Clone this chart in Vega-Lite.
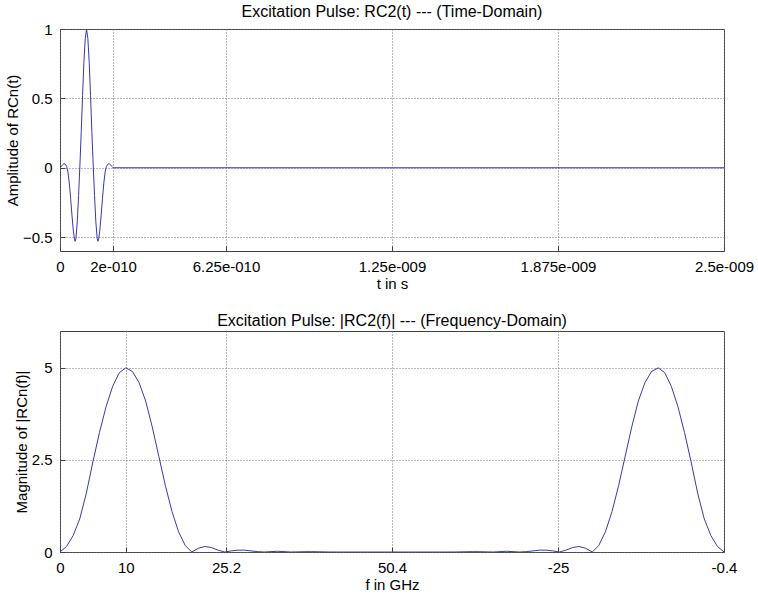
{
  "$schema": "https://vega.github.io/schema/vega-lite/v6.json",
  "background": "white",
  "padding": {"left": 4, "top": 3, "right": 5, "bottom": 5},
  "spacing": 80,
  "bounds": "flush",
  "datasets": {
    "pulse": [
      {"t": 0, "a": 0},
      {"t": 5e-12, "a": 0.01},
      {"t": 1e-11, "a": 0.022},
      {"t": 1.5e-11, "a": 0.03},
      {"t": 2e-11, "a": 0.025},
      {"t": 2.5e-11, "a": 0.01},
      {"t": 3e-11, "a": -0.03},
      {"t": 3.5e-11, "a": -0.11},
      {"t": 4e-11, "a": -0.22},
      {"t": 4.5e-11, "a": -0.34},
      {"t": 5e-11, "a": -0.45},
      {"t": 5.5e-11, "a": -0.52},
      {"t": 5.7e-11, "a": -0.53},
      {"t": 6e-11, "a": -0.51},
      {"t": 6.5e-11, "a": -0.39},
      {"t": 7e-11, "a": -0.2},
      {"t": 7.5e-11, "a": 0.02},
      {"t": 8e-11, "a": 0.26},
      {"t": 8.5e-11, "a": 0.52},
      {"t": 9e-11, "a": 0.76},
      {"t": 9.5e-11, "a": 0.93},
      {"t": 1e-10, "a": 1.0},
      {"t": 1.05e-10, "a": 0.93},
      {"t": 1.1e-10, "a": 0.76},
      {"t": 1.15e-10, "a": 0.52},
      {"t": 1.2e-10, "a": 0.26},
      {"t": 1.25e-10, "a": 0.02},
      {"t": 1.3e-10, "a": -0.2},
      {"t": 1.35e-10, "a": -0.39},
      {"t": 1.4e-10, "a": -0.51},
      {"t": 1.43e-10, "a": -0.53},
      {"t": 1.45e-10, "a": -0.52},
      {"t": 1.5e-10, "a": -0.45},
      {"t": 1.55e-10, "a": -0.34},
      {"t": 1.6e-10, "a": -0.22},
      {"t": 1.65e-10, "a": -0.11},
      {"t": 1.7e-10, "a": -0.03},
      {"t": 1.75e-10, "a": 0.01},
      {"t": 1.8e-10, "a": 0.025},
      {"t": 1.85e-10, "a": 0.03},
      {"t": 1.9e-10, "a": 0.022},
      {"t": 1.95e-10, "a": 0.01},
      {"t": 2e-10, "a": 0},
      {"t": 2.5e-9, "a": 0}
    ],
    "spectrum": [
      {"f": 0, "m": 0}, {"f": 1, "m": 0.15}, {"f": 2, "m": 0.45}, {"f": 3, "m": 0.9},
      {"f": 4, "m": 1.6}, {"f": 5, "m": 2.45}, {"f": 6, "m": 3.25}, {"f": 7, "m": 3.95},
      {"f": 8, "m": 4.5}, {"f": 9, "m": 4.87}, {"f": 10, "m": 5.0}, {"f": 11, "m": 4.9},
      {"f": 12, "m": 4.6}, {"f": 13, "m": 4.1}, {"f": 14, "m": 3.4}, {"f": 15, "m": 2.6},
      {"f": 16, "m": 1.8}, {"f": 17, "m": 1.1}, {"f": 18, "m": 0.55}, {"f": 19, "m": 0.18},
      {"f": 20, "m": 0.0}, {"f": 21, "m": 0.1}, {"f": 22, "m": 0.15}, {"f": 23, "m": 0.12},
      {"f": 24, "m": 0.05}, {"f": 25, "m": 0.0}, {"f": 26, "m": 0.03}, {"f": 27, "m": 0.05},
      {"f": 28, "m": 0.05}, {"f": 29, "m": 0.03}, {"f": 30, "m": 0.01}, {"f": 31, "m": 0.0},
      {"f": 33, "m": 0.02}, {"f": 35, "m": 0.0}, {"f": 38, "m": 0.01}, {"f": 41, "m": 0.0},
      {"f": 50.4, "m": 0.0},
      {"f": 59.8, "m": 0.0}, {"f": 62.8, "m": 0.01}, {"f": 65.8, "m": 0.0}, {"f": 67.8, "m": 0.02},
      {"f": 69.8, "m": 0.0}, {"f": 70.8, "m": 0.01}, {"f": 71.8, "m": 0.03}, {"f": 72.8, "m": 0.05},
      {"f": 73.8, "m": 0.05}, {"f": 74.8, "m": 0.03}, {"f": 75.8, "m": 0.0}, {"f": 76.8, "m": 0.05},
      {"f": 77.8, "m": 0.12}, {"f": 78.8, "m": 0.15}, {"f": 79.8, "m": 0.1}, {"f": 80.8, "m": 0.0},
      {"f": 81.8, "m": 0.18}, {"f": 82.8, "m": 0.55}, {"f": 83.8, "m": 1.1}, {"f": 84.8, "m": 1.8},
      {"f": 85.8, "m": 2.6}, {"f": 86.8, "m": 3.4}, {"f": 87.8, "m": 4.1}, {"f": 88.8, "m": 4.6},
      {"f": 89.8, "m": 4.9}, {"f": 90.8, "m": 5.0}, {"f": 91.8, "m": 4.87}, {"f": 92.8, "m": 4.5},
      {"f": 93.8, "m": 3.95}, {"f": 94.8, "m": 3.25}, {"f": 95.8, "m": 2.45}, {"f": 96.8, "m": 1.6},
      {"f": 97.8, "m": 0.9}, {"f": 98.8, "m": 0.45}, {"f": 99.8, "m": 0.15}, {"f": 100.8, "m": 0}
    ]
  },
  "vconcat": [
    {
      "width": 664,
      "height": 222,
      "title": {"text": "Excitation Pulse: RC2(t) --- (Time-Domain)", "offset": 2},
      "data": {"name": "pulse"},
      "mark": {"type": "line", "color": "#3838b0", "strokeWidth": 1, "clip": true},
      "encoding": {
        "x": {
          "field": "t", "type": "quantitative", "title": "t in s",
          "scale": {"domain": [0, 2.5e-9], "nice": false, "zero": false},
          "axis": {
            "values": [0, 2e-10, 6.25e-10, 1.25e-9, 1.875e-9, 2.5e-9],
            "labelExpr": "datum.value < 1e-10 ? '0' : datum.value < 4e-10 ? '2e-010' : datum.value < 1e-9 ? '6.25e-010' : datum.value < 1.5e-9 ? '1.25e-009' : datum.value < 2.2e-9 ? '1.875e-009' : '2.5e-009'"
          }
        },
        "y": {
          "field": "a", "type": "quantitative", "title": "Amplitude of RCn(t)",
          "scale": {"domain": [-0.6, 1], "nice": false, "zero": false},
          "axis": {"values": [-0.5, 0, 0.5, 1], "labelExpr": "format(datum.value, '~g')"}
        }
      }
    },
    {
      "width": 664,
      "height": 221,
      "title": {"text": "Excitation Pulse: |RC2(f)| --- (Frequency-Domain)", "offset": 2},
      "data": {"name": "spectrum"},
      "mark": {"type": "line", "color": "#3838b0", "strokeWidth": 1, "clip": true},
      "encoding": {
        "x": {
          "field": "f", "type": "quantitative", "title": "f in GHz",
          "scale": {"domain": [0, 100.8], "nice": false, "zero": false},
          "axis": {
            "values": [0, 10, 25.2, 50.4, 75.6, 100.8],
            "labelExpr": "datum.value > 100 ? '-0.4' : datum.value > 70 ? '-25' : format(datum.value, '~g')"
          }
        },
        "y": {
          "field": "m", "type": "quantitative", "title": "Magnitude of |RCn(f)|",
          "scale": {"domain": [0, 6], "nice": false, "zero": false},
          "axis": {"values": [0, 2.5, 5], "labelExpr": "format(datum.value, '~g')"}
        }
      }
    }
  ],
  "config": {
    "font": "Liberation Sans",
    "view": {"stroke": "#404040", "strokeWidth": 1},
    "axis": {
      "domain": false,
      "grid": true,
      "gridDash": [1, 2],
      "gridColor": "#707070",
      "gridWidth": 1,
      "ticks": true,
      "tickSize": -5,
      "tickColor": "#404040",
      "labelFont": "Liberation Sans",
      "labelFontSize": 15,
      "labelColor": "#000000",
      "labelPadding": 13,
      "labelFlush": false,
      "labelOverlap": false,
      "titleFont": "Liberation Sans",
      "titleFontSize": 15,
      "titleFontWeight": "normal",
      "titleColor": "#000000",
      "titlePadding": 2
    },
    "axisY": {"labelPadding": 13},
    "title": {"font": "Liberation Sans", "fontSize": 16, "fontWeight": "normal", "color": "#000000", "anchor": "middle"}
  }
}
